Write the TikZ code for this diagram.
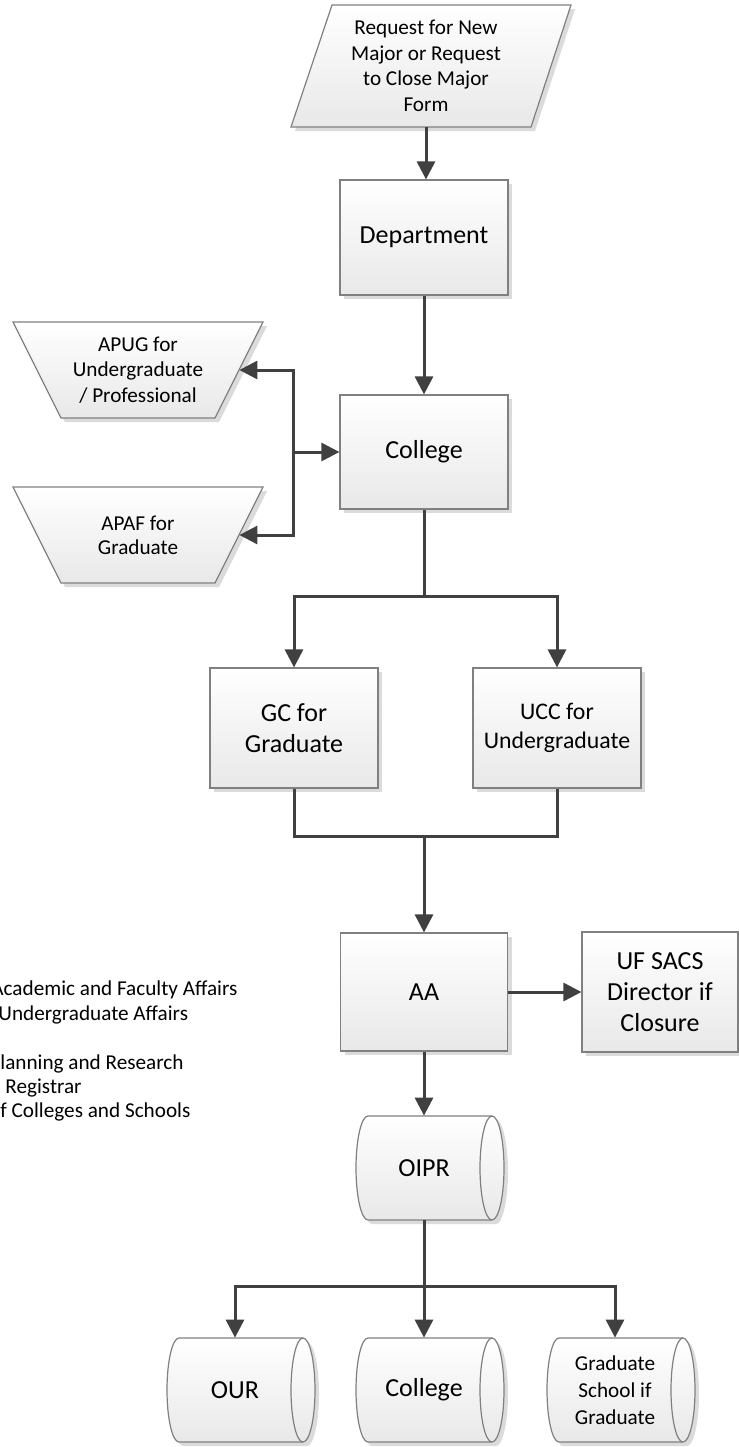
\documentclass[tikz,border=0pt]{standalone}
\usepackage{fontspec}
\setmainfont{Carlito}
\usetikzlibrary{arrows.meta,shadows,calc}
\tikzset{
  shp/.style={draw=black!50, line width=0.6pt, top color=white, bottom color=black!9,
    drop shadow={shadow xshift=2pt, shadow yshift=-2pt, fill=black!14, opacity=1}},
  box/.style={shp, minimum width=84pt, minimum height=58pt, inner sep=0pt, align=center,
    font=\fontsize{13}{15.8}\selectfont},
  lbl/.style={inner sep=0pt, align=center},
  small/.style={font=\fontsize{10.6}{12.75}\selectfont},
  conn/.style={draw=black!75, line width=1.5pt},
  arr/.style={conn, -{Triangle[length=9pt,width=9pt]}},
  legend/.style={inner sep=0pt, anchor=west, font=\fontsize{10.6}{12.5}\selectfont},
}
\newcommand{\cylpath}[4]{%
  \path[shp] (#1,#3) -- (#2,#3) arc[start angle=90,end angle=-90,x radius=6pt,y radius=26pt]
     -- (#1,#4) arc[start angle=270,end angle=90,x radius=6pt,y radius=26pt] -- cycle;
  \draw[draw=black!50,line width=0.6pt] (#2,#3) arc[start angle=90,end angle=270,x radius=6pt,y radius=26pt];}
\begin{document}
\begin{tikzpicture}[x=0.5pt,y=-0.5pt]
\fill[white] (0,0) rectangle (739,1447);
\useasboundingbox (0,0) rectangle (739,1447);

% request form (parallelogram)
\path[shp] (332,5) -- (571,5) -- (531,127) -- (291,127) -- cycle;
\node[lbl, small, minimum height=61pt] (req) at (426,66) {Request for New\\Major or Request\\to Close Major\\Form};

% boxes
\node[box, minimum height=57.5pt] (dept) at (424,237.5) {Department};
\node[box, minimum height=57pt] (college) at (424,452) {College};
\node[box, minimum height=60pt] (gc) at (294,728) {GC for\\Graduate};
\node[box, minimum height=60pt, font=\fontsize{11.9}{14.2}\selectfont] (ucc) at (557,728) {UCC for\\Undergraduate};
\node[box, minimum height=59pt, minimum width=83.5pt] (aa) at (424,992) {AA};
\node[box, minimum height=60pt, minimum width=78pt, font=\fontsize{13}{15.5}\selectfont] (sacs) at (660,992) {UF SACS\\Director if\\Closure};

% trapezoids
\path[shp] (13,322) -- (263,322) -- (215,418) -- (61,418) -- cycle;
\node[lbl, small, minimum width=101pt, minimum height=48pt] (apug) at (138,370) {APUG for\\Undergraduate\\/ Professional};
\path[shp] (13,487) -- (263,487) -- (215,583) -- (61,583) -- cycle;
\node[lbl, small, minimum width=101pt, minimum height=48pt, font=\fontsize{10.6}{12}\selectfont] (apaf) at (138,535) {APAF for\\Graduate};

% cylinders
\cylpath{368}{492}{1116}{1220}
\node[lbl, minimum height=52pt, font=\fontsize{13}{15.8}\selectfont] (oipr) at (424,1168) {OIPR};
\cylpath{179}{303}{1338}{1442}
\node[lbl, minimum height=52pt, font=\fontsize{13}{15.8}\selectfont] (our) at (235,1390) {OUR};
\cylpath{368}{492}{1338}{1442}
\node[lbl, minimum height=52pt, font=\fontsize{13}{15.8}\selectfont] (col2) at (424,1390) {College};
\cylpath{559}{683}{1338}{1442}
\node[lbl, minimum height=52pt, font=\fontsize{10.6}{13.4}\selectfont] (grad) at (615,1390) {Graduate\\School if\\Graduate};

% legend (cut at the left edge, as in the reference)
\node[legend] (l1) at (-9,990) {Academic and Faculty Affairs};
\node[legend] (l2) at (-2,1015) {Undergraduate Affairs};
\node[legend] (l3) at (0,1064) {lanning and Research};
\node[legend] (l4) at (5,1088) {Registrar};
\node[legend] (l5) at (0,1112) {f Colleges and Schools};

% connectors
\draw[arr] (req.south) -- (req.south |- dept.north);
\draw[arr] (dept.south) -- (college.north);
\coordinate (J) at (293,452);
\draw[arr] (J) -- (college.west);
\draw[arr] (J) |- (apug.east);
\draw[arr] (J) |- (apaf.east);
\coordinate (S1) at (424,596);
\draw[conn] (college.south) -- (S1);
\draw[arr] (S1) -| (gc.north);
\draw[arr] (S1) -| (ucc.north);
\coordinate (M) at (424,836);
\draw[conn] (gc.south) |- (M);
\draw[conn] (ucc.south) |- (M);
\draw[arr] (M) -- (aa.north);
\draw[arr] (aa.east) -- (sacs.west);
\draw[arr] (aa.south) -- (oipr.north);
\coordinate (S2) at (424,1286);
\draw[conn] (oipr.south) -- (S2);
\draw[arr] (S2) -| (our.north);
\draw[arr] (S2) -- (col2.north);
\draw[arr] (S2) -| (grad.north);
\end{tikzpicture}
\end{document}
